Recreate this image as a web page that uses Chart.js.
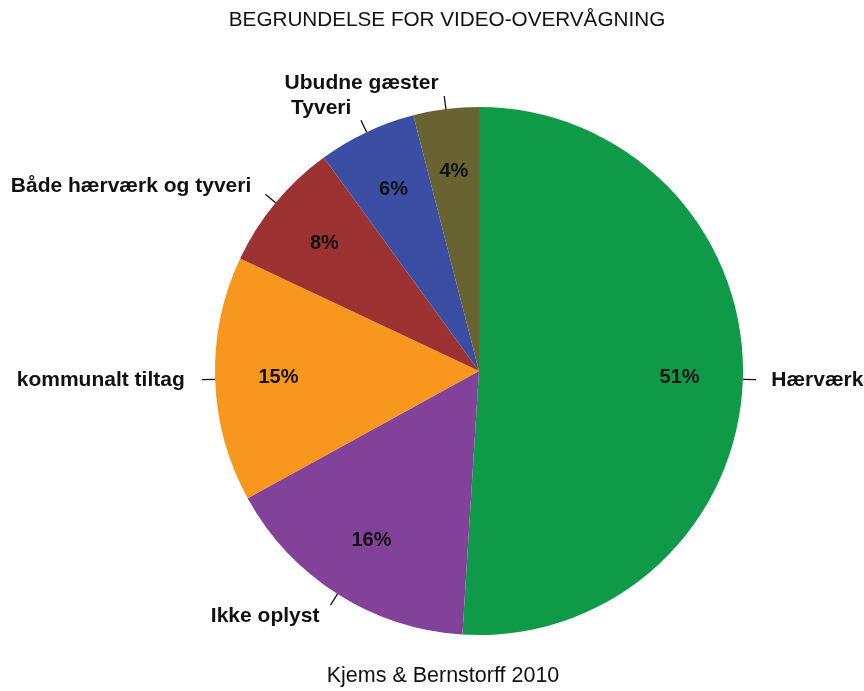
<!DOCTYPE html>
<html>
<head>
<meta charset="utf-8">
<script src="https://cdn.jsdelivr.net/npm/chart.js@4"></script>
<style>
  body { margin: 0; background: #fff; }
  #wrap { width: 864px; height: 691px; position: relative; }
</style>
</head>
<body>
<div id="wrap"><canvas id="chart"></canvas></div>
<script>
const chartTitle = "BEGRUNDELSE FOR VIDEO-OVERVÅGNING";
const footerText = "Kjems & Bernstorff 2010";
const categories = ["Hærværk", "Ikke oplyst", "kommunalt tiltag", "Både hærværk og tyveri", "Tyveri", "Ubudne gæster"];
const shares = [51, 16, 15, 8, 6, 4];
const sliceColors = ["#0E9A47", "#82429A", "#F7971E", "#9C3332", "#3B4EA3", "#686331"];

const labelFont = "bold 21px 'Liberation Sans', Arial, sans-serif";
const titleFont = "20.7px 'Liberation Sans', Arial, sans-serif";
const footerFont = "21.5px 'Liberation Sans', Arial, sans-serif";

// R-style pie labels: short leader line 1.0 -> 1.05 r, text at 1.1 r
const pieLabels = {
  id: "pieLabels",
  afterDraw(chart) {
    const ctx = chart.ctx;
    const meta = chart.getDatasetMeta(0);
    ctx.save();
    ctx.fillStyle = "#111";
    ctx.textBaseline = "middle";
    ctx.textAlign = "center";

    ctx.font = titleFont;
    ctx.fillText(chartTitle, 447, 20);
    ctx.font = footerFont;
    ctx.fillText(footerText, 443, 676);

    meta.data.forEach((arc, i) => {
      const { x, y, startAngle, endAngle, outerRadius } = arc.getProps(
        ["x", "y", "startAngle", "endAngle", "outerRadius"], true
      );
      const mid = (startAngle + endAngle) / 2;
      const cx = Math.cos(mid), cy = Math.sin(mid);

      ctx.strokeStyle = "#111";
      ctx.lineWidth = 1.3;
      ctx.beginPath();
      ctx.moveTo(x + cx * outerRadius, y + cy * outerRadius);
      ctx.lineTo(x + cx * outerRadius * 1.05, y + cy * outerRadius * 1.05);
      ctx.stroke();

      ctx.font = labelFont;
      const left = cx < 0;
      ctx.textAlign = left ? "right" : "left";
      const tx = x + cx * outerRadius * 1.1 + (left ? -4 : 2);
      ctx.fillText(categories[i], tx, y + cy * outerRadius * 1.1);

      ctx.font = "bold 20px 'Liberation Sans', Arial, sans-serif";
      ctx.textAlign = "center";
      ctx.fillText(shares[i] + "%", x + cx * outerRadius * 0.76, y + cy * outerRadius * 0.76);
    });
    ctx.restore();
  },
};

new Chart(document.getElementById("chart"), {
  type: "pie",
  data: {
    labels: categories,
    datasets: [{
      data: shares,
      backgroundColor: sliceColors,
      borderWidth: 0,
    }],
  },
  options: {
    responsive: true,
    maintainAspectRatio: false,
    animation: false,
    layout: { padding: { top: 107, bottom: 56, left: 215, right: 121 } },
    plugins: {
      legend: { display: false },
      tooltip: { enabled: false },
      title: { display: false },
    },
  },
  plugins: [pieLabels],
});
</script>
</body>
</html>
